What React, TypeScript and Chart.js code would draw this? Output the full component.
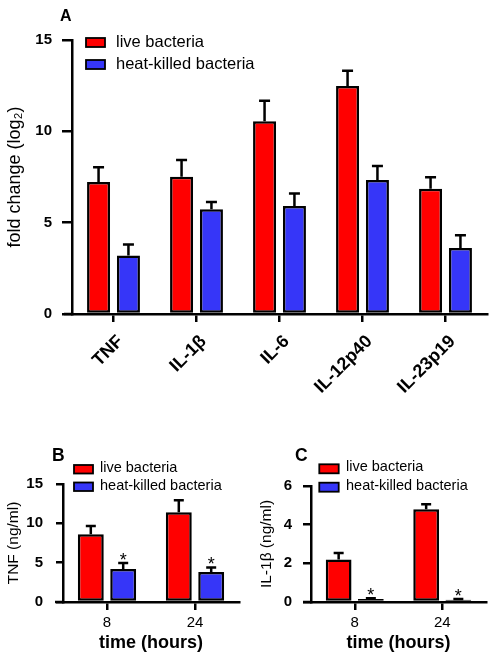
import React, { useEffect, useRef } from 'react';
import { Chart, registerables } from 'chart.js';

Chart.register(...registerables);

const FONT = "'Liberation Sans', Arial, Helvetica, sans-serif";

// ---------- Panel A: fold change (log2) ----------
const cytokines = ['TNF', 'IL-1β', 'IL-6', 'IL-12p40', 'IL-23p19'];
const liveFold = [7.22, 7.52, 10.55, 12.48, 6.86];
const liveFoldErr = [0.81, 0.91, 1.13, 0.84, 0.62];
const heatFold = [3.2, 5.73, 5.91, 7.33, 3.61];
const heatFoldErr = [0.6, 0.4, 0.69, 0.77, 0.7];
const foldTicks = [0, 5, 10, 15];

// ---------- Panel B: TNF (ng/ml) ----------
const hours = ['8', '24'];
const liveTnf = [8.6, 11.4];
const liveTnfErr = [1.05, 1.55];
const heatTnf = [4.2, 3.8];
const heatTnfErr = [0.75, 0.6];
const heatTnfSig = [true, true];
const tnfTicks = [0, 5, 10, 15];

// ---------- Panel C: IL-1β (ng/ml) ----------
const liveIl1b = [2.2, 4.8];
const liveIl1bErr = [0.33, 0.26];
const heatIl1b = [0.15, 0.12];
const heatIl1bErr = [0.04, 0.04];
const heatIl1bSig = [true, true];
const il1bTicks = [0, 2, 4, 6];

const seriesLabels = ['live bacteria', 'heat-killed bacteria'];
const RED = '#ff0000';
const BLUE = '#3636f8';

const decorPlugin = {
  id: 'panelDecor',
  afterDatasetsDraw(chart: any, _args: any, opts: any) {
    const ctx = chart.ctx;
    const yScale = chart.scales.y;
    ctx.save();
    // error bars + significance stars
    chart.data.datasets.forEach((ds: any, di: number) => {
      const meta = chart.getDatasetMeta(di);
      meta.data.forEach((bar: any, i: number) => {
        const v = ds.data[i];
        const e = ds.errors ? ds.errors[i] : 0;
        const yBar = yScale.getPixelForValue(v);
        const yTop = yScale.getPixelForValue(v + e);
        ctx.strokeStyle = '#000';
        ctx.lineWidth = opts.errWidth;
        ctx.lineCap = 'butt';
        ctx.beginPath();
        ctx.moveTo(bar.x, yBar);
        ctx.lineTo(bar.x, yTop);
        ctx.moveTo(bar.x - opts.cap / 2, yTop);
        ctx.lineTo(bar.x + opts.cap / 2, yTop);
        ctx.stroke();
        if (ds.stars && ds.stars[i]) {
          ctx.fillStyle = '#000';
          ctx.font = `${opts.starSize}px ${FONT}`;
          ctx.textAlign = 'center';
          ctx.textBaseline = 'alphabetic';
          ctx.fillText('*', bar.x, yTop + opts.starDy);
        }
      });
    });
    // x axis extends a little to the left of the y axis
    const y0 = yScale.getPixelForValue(0);
    ctx.strokeStyle = '#000';
    ctx.lineWidth = 2.5;
    ctx.beginPath();
    ctx.moveTo(chart.chartArea.left - opts.axisExt, y0);
    ctx.lineTo(chart.chartArea.left, y0);
    ctx.stroke();
    // legend
    chart.data.datasets.forEach((ds: any, di: number) => {
      const by = opts.boxY + di * opts.gap;
      ctx.fillStyle = ds.backgroundColor;
      ctx.fillRect(opts.boxX, by, opts.boxW, opts.boxH);
      ctx.strokeStyle = '#000';
      ctx.lineWidth = 1.8;
      ctx.strokeRect(opts.boxX, by, opts.boxW, opts.boxH);
      ctx.fillStyle = '#000';
      ctx.font = `${opts.fontSize}px ${FONT}`;
      ctx.textAlign = 'left';
      ctx.textBaseline = 'alphabetic';
      ctx.fillText(ds.label, opts.textX, by + opts.textDy);
    });
    // panel letter
    ctx.fillStyle = '#000';
    ctx.font = `bold ${opts.letterSize}px ${FONT}`;
    ctx.textAlign = 'left';
    ctx.textBaseline = 'alphabetic';
    ctx.fillText(opts.letter, opts.letterX, opts.letterY);
    ctx.restore();
  },
};

type Spec = {
  left: number; top: number; width: number; height: number;
  labels: string[];
  live: number[]; liveErr: number[];
  heat: number[]; heatErr: number[]; heatSig?: boolean[];
  yTicks: number[];
  yTitle: string; yTitleSize: number; yTitlePad: number;
  yAxisWidth: number; xAxisHeight: number;
  padTop: number; padRight: number;
  yTickLen: number; yTickPad: number;
  xTickLen: number; xTickPad: number; xTickSize: number; xTickBold: boolean; xRotation: number; xLabelOffset: number;
  xTitle?: string; xTitlePad?: number;
  catPct: number; barPct: number;
  decor: any;
};

function Panel({ spec }: { spec: Spec }) {
  const ref = useRef<HTMLCanvasElement>(null);
  useEffect(() => {
    if (!ref.current) return;
    const common = {
      borderColor: '#000',
      borderWidth: 2.5,
      borderSkipped: false,
      categoryPercentage: spec.catPct,
      barPercentage: spec.barPct,
    };
    const chart = new Chart(ref.current, {
      type: 'bar',
      data: {
        labels: spec.labels,
        datasets: [
          { label: seriesLabels[0], data: spec.live, errors: spec.liveErr, backgroundColor: RED, ...common } as any,
          { label: seriesLabels[1], data: spec.heat, errors: spec.heatErr, stars: spec.heatSig, backgroundColor: BLUE, ...common } as any,
        ],
      },
      options: {
        responsive: false,
        maintainAspectRatio: false,
        animation: false,
        devicePixelRatio: 1,
        layout: { padding: { top: spec.padTop, right: spec.padRight, left: 0, bottom: 0 } },
        plugins: {
          legend: { display: false },
          tooltip: { enabled: false },
          title: { display: false },
          panelDecor: spec.decor,
        } as any,
        scales: {
          x: {
            offset: true,
            grid: {
              display: true, drawOnChartArea: false, drawTicks: true,
              tickLength: spec.xTickLen, lineWidth: 2.5, color: '#000', offset: false,
            },
            border: { display: true, color: '#000', width: 2.5 },
            ticks: {
              color: '#000',
              font: { family: FONT, size: spec.xTickSize, weight: spec.xTickBold ? 'bold' : 'normal' },
              padding: spec.xTickPad,
              labelOffset: spec.xLabelOffset,
              minRotation: spec.xRotation,
              maxRotation: spec.xRotation,
              autoSkip: false,
            },
            title: spec.xTitle
              ? {
                  display: true, text: spec.xTitle, color: '#000',
                  font: { family: FONT, size: 18, weight: 'bold' },
                  padding: { top: 0, bottom: spec.xTitlePad },
                }
              : { display: false },
            afterFit: (s: any) => { s.height = spec.xAxisHeight; },
          } as any,
          y: {
            min: spec.yTicks[0],
            max: spec.yTicks[spec.yTicks.length - 1],
            grid: {
              display: true, drawOnChartArea: false, drawTicks: true,
              tickLength: spec.yTickLen, lineWidth: 2.5, color: '#000',
            },
            border: { display: true, color: '#000', width: 2.5 },
            ticks: {
              color: '#000',
              font: { family: FONT, size: 15, weight: 'bold' },
              padding: spec.yTickPad,
            },
            afterBuildTicks: (s: any) => { s.ticks = spec.yTicks.map((v) => ({ value: v })); },
            title: {
              display: true, text: spec.yTitle, color: '#000',
              font: { family: FONT, size: spec.yTitleSize },
              padding: { top: spec.yTitlePad, bottom: 0 },
            },
            afterFit: (s: any) => { s.width = spec.yAxisWidth; },
          } as any,
        },
      },
      plugins: [decorPlugin as any],
    });
    return () => chart.destroy();
  }, [spec]);
  return (
    <canvas
      ref={ref}
      width={spec.width}
      height={spec.height}
      style={{ position: 'absolute', left: spec.left, top: spec.top, width: spec.width, height: spec.height }}
    />
  );
}

const specA: Spec = {
  left: 0, top: 0, width: 492, height: 400,
  labels: cytokines,
  live: liveFold, liveErr: liveFoldErr,
  heat: heatFold, heatErr: heatFoldErr,
  yTicks: foldTicks,
  yTitle: 'fold change (log₂)', yTitleSize: 18, yTitlePad: 4,
  yAxisWidth: 72, xAxisHeight: 86,
  padTop: 40, padRight: 5,
  yTickLen: 10, yTickPad: 10,
  xTickLen: 8, xTickPad: 9, xTickSize: 18, xTickBold: true, xRotation: 45, xLabelOffset: 7,
  catPct: 0.72, barPct: 0.77,
  decor: {
    errWidth: 2.5, cap: 11, starSize: 18, starDy: 3, axisExt: 8,
    boxX: 86, boxY: 38, boxW: 19, boxH: 9, gap: 22, textX: 116, textDy: 9.2, fontSize: 16.5,
    letter: 'A', letterX: 60, letterY: 21, letterSize: 16,
  },
};

const specB: Spec = {
  left: 0, top: 420, width: 245, height: 240,
  labels: hours,
  live: liveTnf, liveErr: liveTnfErr,
  heat: heatTnf, heatErr: heatTnfErr, heatSig: heatTnfSig,
  yTicks: tnfTicks,
  yTitle: 'TNF (ng/ml)', yTitleSize: 15.5, yTitlePad: 4,
  yAxisWidth: 63, xAxisHeight: 58,
  padTop: 64, padRight: 6,
  yTickLen: 7, yTickPad: 13,
  xTickLen: 8, xTickPad: 4, xTickSize: 15, xTickBold: false, xRotation: 0, xLabelOffset: 0,
  xTitle: 'time (hours)', xTitlePad: 6,
  catPct: 0.736, barPct: 0.8,
  decor: {
    errWidth: 2.5, cap: 10, starSize: 18, starDy: 3, axisExt: 8,
    boxX: 74, boxY: 45, boxW: 19, boxH: 8.5, gap: 17.5, textX: 100, textDy: 7, fontSize: 14.5,
    letter: 'B', letterX: 52, letterY: 40.7, letterSize: 17.5,
  },
};

const specC: Spec = {
  left: 246, top: 420, width: 246, height: 240,
  labels: hours,
  live: liveIl1b, liveErr: liveIl1bErr,
  heat: heatIl1b, heatErr: heatIl1bErr, heatSig: heatIl1bSig,
  yTicks: il1bTicks,
  yTitle: 'IL-1β (ng/ml)', yTitleSize: 15.5, yTitlePad: 11.4,
  yAxisWidth: 65, xAxisHeight: 58,
  padTop: 66, padRight: 6,
  yTickLen: 8, yTickPad: 11,
  xTickLen: 8, xTickPad: 4, xTickSize: 15, xTickBold: false, xRotation: 0, xLabelOffset: 0,
  xTitle: 'time (hours)', xTitlePad: 6,
  catPct: 0.736, barPct: 0.8,
  decor: {
    errWidth: 2.5, cap: 10, starSize: 18, starDy: 3, axisExt: 8,
    boxX: 73.3, boxY: 44.3, boxW: 19.4, boxH: 9, gap: 18.4, textX: 100, textDy: 6.8, fontSize: 14.5,
    letter: 'C', letterX: 49, letterY: 41, letterSize: 17.5,
  },
};

export default function App() {
  return (
    <div style={{ position: 'absolute', left: 0, top: 0, width: 492, height: 660, background: '#fff' }}>
      <Panel spec={specA} />
      <Panel spec={specB} />
      <Panel spec={specC} />
    </div>
  );
}
